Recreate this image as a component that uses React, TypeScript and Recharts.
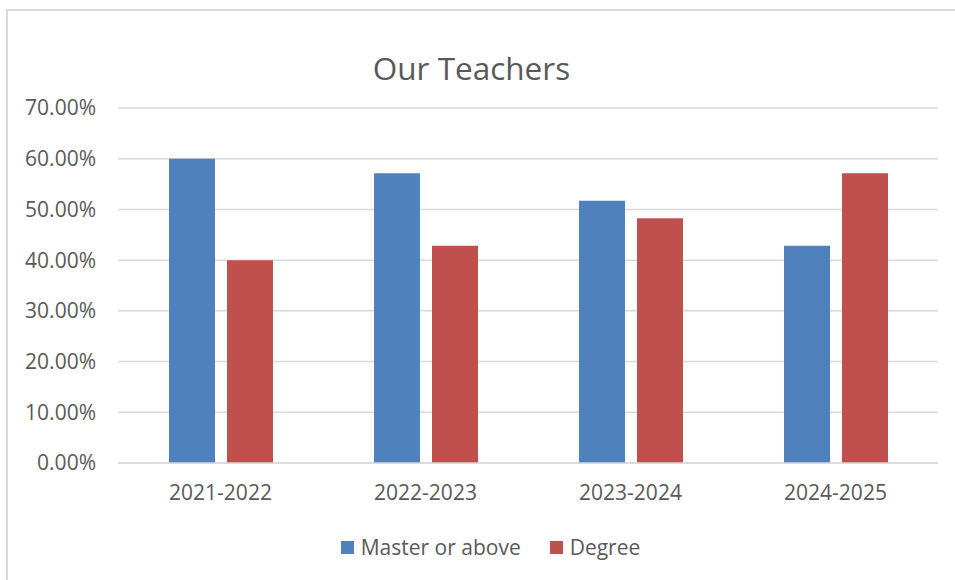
import React from 'react';
import { BarChart, Bar, XAxis, YAxis, CartesianGrid } from 'recharts';

const categories = ['2021-2022', '2022-2023', '2023-2024', '2024-2025'];
const masterOrAbove = [0.6, 0.5714, 0.5172, 0.4286];
const degree = [0.4, 0.4286, 0.4828, 0.5714];
const yTicks = [0, 0.1, 0.2, 0.3, 0.4, 0.5, 0.6, 0.7];
const seriesNames = ['Master or above', 'Degree'];
const seriesColors = ['#4F81BD', '#C0504D'];

const data = categories.map((c, i) => ({ name: c, master: masterOrAbove[i], degree: degree[i] }));

const FONT = '"Open Sans", sans-serif';
const TEXT = '#595959';

const LegendContent = () => (
  <div style={{ display: 'flex', justifyContent: 'center', alignItems: 'center', fontFamily: FONT, fontSize: 21, color: TEXT, lineHeight: '24px' }}>
    {seriesNames.map((n, i) => (
      <div key={n} style={{ display: 'flex', alignItems: 'center', marginRight: i === 0 ? 29 : 0 }}>
        <span style={{ display: 'inline-block', width: 13, height: 13, background: seriesColors[i], marginRight: 7 }} />
        <span>{n}</span>
      </div>
    ))}
  </div>
);

export default function App() {
  return (
    <div style={{ position: 'absolute', left: 0, top: 0, width: 955, height: 580, background: '#fff', overflow: 'hidden' }}>
      <div style={{ position: 'absolute', left: 6, top: 9, width: 1000, height: 1000, borderTop: '2px solid #d9d9d9', borderLeft: '2px solid #d9d9d9' }} />
      <svg style={{ position: 'absolute', left: 0, top: 0 }} width={955} height={120}>
        <text x={471.5} y={80} textAnchor="middle" fontFamily={FONT} fontSize={31.5} fill={TEXT}>Our Teachers</text>
      </svg>
      <div style={{ position: 'absolute', left: 0, top: 0 }}>
        <BarChart width={955} height={580} data={data} margin={{ top: 108, right: 17, bottom: 87, left: 0 }} barSize={46} barGap={12}>
          <CartesianGrid vertical={false} stroke="#d9d9d9" strokeWidth={1.5} />
          <XAxis dataKey="name" height={30} axisLine={{ stroke: '#d9d9d9', strokeWidth: 1.5 }} tickLine={false} tickSize={0} tickMargin={22}
            tick={{ fontFamily: FONT, fontSize: 21, fill: TEXT }} />
          <YAxis width={118} domain={[0, 0.7]} ticks={yTicks} axisLine={false} tickLine={false} tickSize={0} tickMargin={22}
            tickFormatter={(v: number) => (v * 100).toFixed(2) + '%'}
            tick={{ fontFamily: FONT, fontSize: 21, fill: TEXT }} />
          <Bar dataKey="master" name={seriesNames[0]} fill={seriesColors[0]} isAnimationActive={false} />
          <Bar dataKey="degree" name={seriesNames[1]} fill={seriesColors[1]} isAnimationActive={false} />
        </BarChart>
      </div>
      <div style={{ position: 'absolute', left: 13, top: 535, width: 955 }}>
        <LegendContent />
      </div>
    </div>
  );
}
